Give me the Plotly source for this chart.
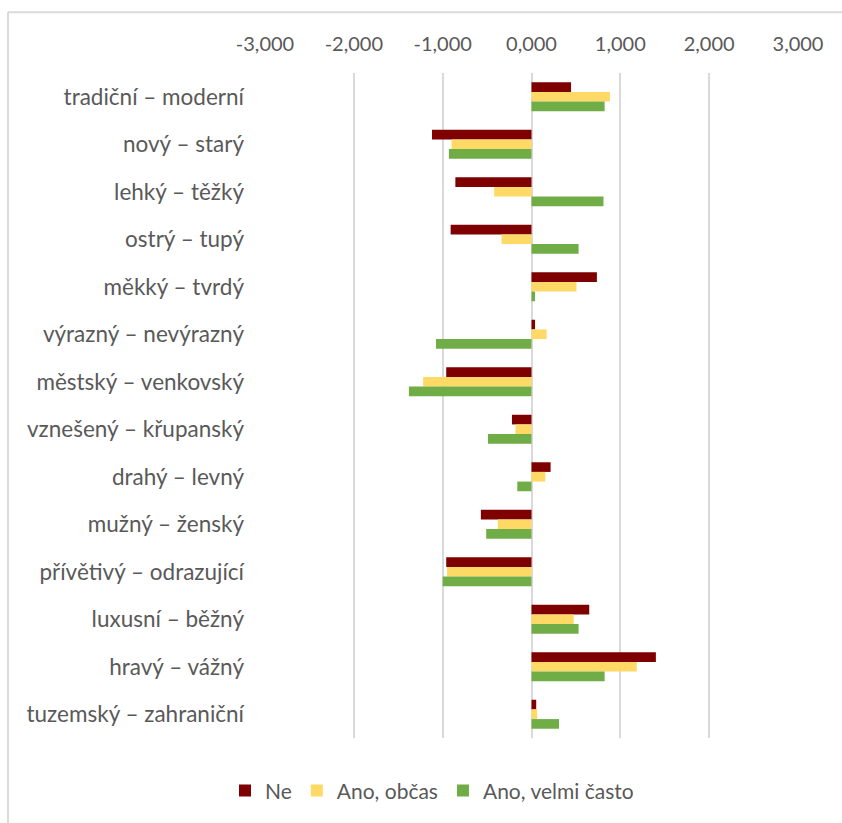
import plotly.graph_objects as go

# Semantic differential pairs, top to bottom
categories = [
    "tradiční – moderní",
    "nový – starý",
    "lehký – těžký",
    "ostrý – tupý",
    "měkký – tvrdý",
    "výrazný – nevýrazný",
    "městský – venkovský",
    "vznešený – křupanský",
    "drahý – levný",
    "mužný – ženský",
    "přívětivý – odrazující",
    "luxusní – běžný",
    "hravý – vážný",
    "tuzemský – zahraniční",
]

ne = [0.445, -1.12, -0.857, -0.91, 0.736, 0.04, -0.96, -0.22, 0.215, -0.57, -0.96, 0.65, 1.40, 0.053]
obcas = [0.883, -0.90, -0.42, -0.336, 0.506, 0.17, -1.22, -0.18, 0.155, -0.38, -0.95, 0.475, 1.185, 0.064]
velmi_casto = [0.823, -0.93, 0.81, 0.53, 0.04, -1.075, -1.38, -0.49, -0.16, -0.51, -1.00, 0.53, 0.823, 0.31]

series_names = ["Ne", "Ano, občas", "Ano, velmi často"]
series_values = [ne, obcas, velmi_casto]
series_colors = ["#7f0000", "#ffd966", "#70ad47"]

tick_values = [-3, -2, -1, 0, 1, 2, 3]
tick_labels = ["-3,000", "-2,000", "-1,000", "0,000", "1,000", "2,000", "3,000"]

FONT = "Lato, 'Open Sans', sans-serif"
TEXT = "#595959"
GRID = "#d9d9d9"

fig = go.Figure()
for name, vals, col in zip(series_names, series_values, series_colors):
    fig.add_trace(go.Bar(
        y=categories, x=vals, name=name, orientation="h",
        marker=dict(color=col, line=dict(width=0)),
    ))

W, H = 842, 823
L, R, T, B = 265, 44, 73, 82
pw, ph = W - L - R, H - T - B

def px_x(px):
    return (px - L) / pw

def px_y(py):
    return (H - B - py) / ph

fig.update_layout(
    width=W, height=H,
    margin=dict(l=L, r=R, t=T, b=B),
    paper_bgcolor="white", plot_bgcolor="white",
    barmode="group", bargap=0.39, bargroupgap=0,
    font=dict(family=FONT, size=20, color=TEXT),
    showlegend=True,
    legend=dict(
        orientation="h", x=px_x(432), xanchor="center",
        y=px_y(794), yanchor="middle",
        font=dict(family=FONT, size=21, color=TEXT),
        traceorder="normal", itemwidth=30,
    ),
    xaxis=dict(
        range=[-3, 3], side="top", tickvals=tick_values, ticktext=tick_labels,
        showgrid=True, gridcolor=GRID, gridwidth=2,
        zeroline=True, zerolinecolor=GRID, zerolinewidth=2,
        showline=False, ticks="", ticklabelstandoff=17,
        tickfont=dict(family=FONT, size=20, color=TEXT),
    ),
    yaxis=dict(
        autorange="reversed", showgrid=False, zeroline=False, showline=False,
        ticks="", ticklabelstandoff=20,
        tickfont=dict(family=FONT, size=22.5, color=TEXT),
    ),
    shapes=[
        dict(type="line", xref="paper", yref="paper",
             x0=px_x(8), x1=px_x(W + 5), y0=px_y(12), y1=px_y(12),
             line=dict(color=GRID, width=2)),
        dict(type="line", xref="paper", yref="paper",
             x0=px_x(8), x1=px_x(8), y0=px_y(12), y1=px_y(H + 5),
             line=dict(color=GRID, width=2)),
    ],
)

fig.write_html("out.html")
